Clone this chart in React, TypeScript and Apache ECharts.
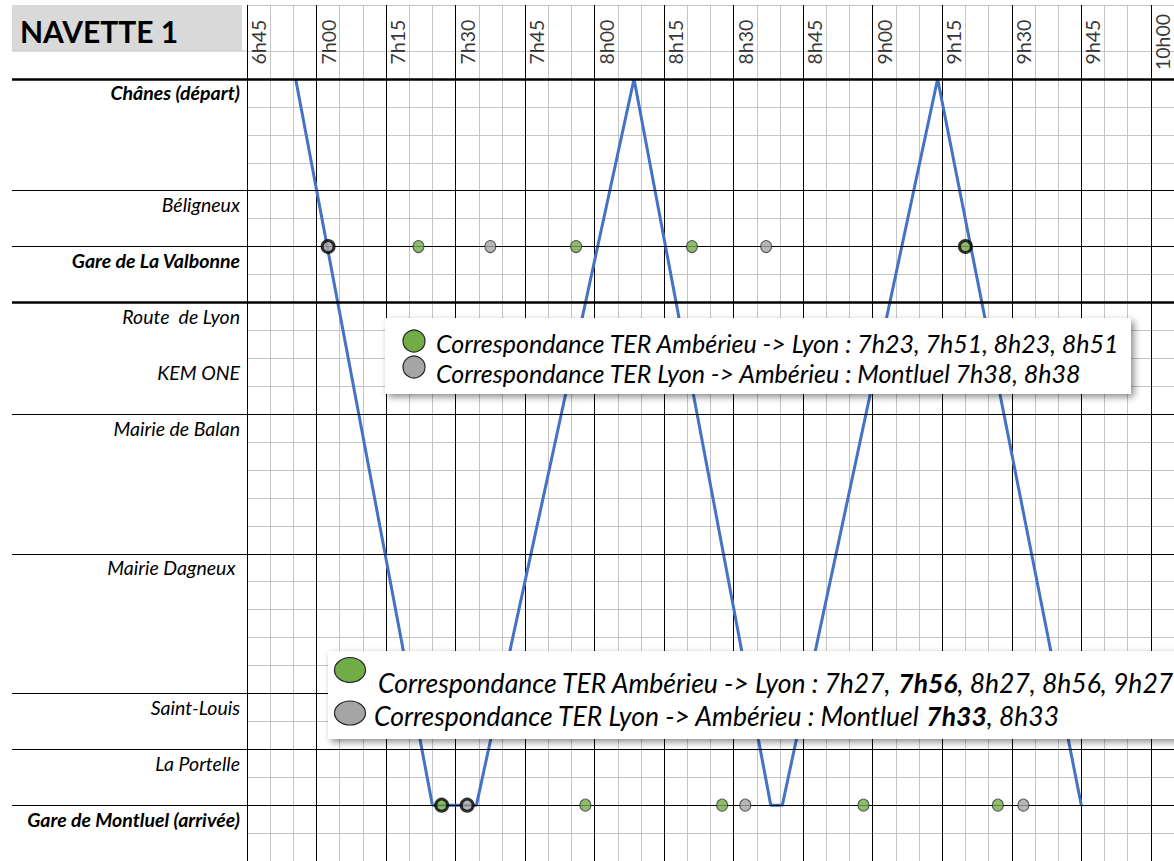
import React, { useEffect, useRef } from 'react';
import * as echarts from 'echarts';

// ---- data ----
const tickLabels = ['6h45', '7h00', '7h15', '7h30', '7h45', '8h00', '8h15', '8h30', '8h45', '9h00', '9h15', '9h30', '9h45', '10h00'];
const tickTimes = [405, 420, 435, 450, 465, 480, 495, 510, 525, 540, 555, 570, 585, 600];

const stationNames = ['Chânes (départ)', 'Béligneux', 'Gare de La Valbonne', 'Route  de Lyon', 'KEM ONE', 'Mairie de Balan', 'Mairie Dagneux ', 'Saint-Louis', 'La Portelle', 'Gare de Montluel (arrivée)'];
const stationRows = [0, 4, 6, 8, 10, 12, 17, 22, 24, 26];
const stationBold = [true, false, true, false, false, false, false, false, false, true];
const boundaryRows = [0, 4, 6, 8, 12, 17, 22, 24, 26];
const totalRows = 28;

// shuttle path (minutes since midnight, row)
const routeTimes = [415.5, 445, 454.5, 488.5, 518, 520.5, 554, 585];
const routeRows = [0, 26, 26, 0, 26, 26, 0, 26];

// connection markers (minutes since midnight)
const valbonneRow = 6;
const valbonneGreen = [442, 476, 501];
const valbonneGrey = [457.5, 517];
const valbonneBoldGreen = [560];
const valbonneBoldGrey = [422.5];
const montluelRow = 26;
const montluelGreen = [478, 507.5, 538, 567];
const montluelGrey = [512.5, 572.5];
const montluelBoldGreen = [447];
const montluelBoldGrey = [452.5];

const legend1 = ['Correspondance TER Ambérieu -> Lyon : 7h23, 7h51, 8h23, 8h51', 'Correspondance TER Lyon -> Ambérieu : Montluel 7h38, 8h38'];
const legend2 = ['Correspondance TER Ambérieu -> Lyon : 7h27, {b|7h56}, 8h27, 8h56, 9h27', 'Correspondance TER Lyon -> Ambérieu : Montluel {b|7h33}, 8h33'];

const GREEN = '#70ad47';
const GREY = '#a5a5a5';
const FONT = 'Lato';

export default function App() {
  const ref = useRef<HTMLDivElement>(null);
  useEffect(() => {
    if (!ref.current) return;
    const chart = echarts.init(ref.current, undefined, { renderer: 'svg' });

    const rowCats = Array.from({ length: totalRows }, (_, i) => String(i));
    const rowName = (i: number) => {
      const k = stationRows.indexOf(i);
      if (k < 0) return '';
      return stationBold[k] ? `{b|${stationNames[k]}}` : `{n|${stationNames[k]}}`;
    };

    const timeAxis = (gridIndex: number) => ({
      gridIndex,
      type: 'value',
      min: 405,
      max: 605,
      interval: 15,
      axisLine: { show: false },
      axisTick: { show: false },
      axisLabel: { show: false },
      splitLine: { show: true, lineStyle: { color: '#000', width: 1 } },
      minorTick: { show: false, splitNumber: 3 },
      minorSplitLine: { show: true, lineStyle: { color: '#c4c4c4', width: 1 } },
    });

    const dots = (times: number[], row: number, color: string, bold: boolean) => ({
      type: 'scatter',
      xAxisIndex: 0,
      yAxisIndex: 0,
      data: times.map((t) => [t, row]),
      symbol: 'circle',
      symbolSize: bold ? [12, 12] : [11, 12],
      itemStyle: { color, borderColor: bold ? '#000' : '#333', borderWidth: bold ? 3 : 1 },
      z: 5,
    });

    const stationLines = (xi: number, yi: number) => ({
      type: 'line',
      xAxisIndex: xi,
      yAxisIndex: yi,
      data: [],
      symbol: 'none',
      silent: true,
      z: 4,
      markLine: {
        silent: true,
        symbol: 'none',
        label: { show: false },
        animation: false,
        data: boundaryRows.map((r) => ({
          yAxis: r,
          lineStyle: { color: '#000', type: 'solid', width: r === 0 || r === 8 ? 2.5 : 1 },
        })),
      },
    });

    const Z = 100;
    const txt = (x: number, y: number, text: string, size: number) => ({
      type: 'text', x, y, z: Z,
      style: {
        text, fontFamily: FONT, fontStyle: 'italic', fontSize: size, fill: '#000', verticalAlign: 'middle',
        rich: { b: { fontFamily: FONT, fontStyle: 'italic', fontWeight: 'bold', fontSize: size, fill: '#000' } },
      },
    });
    const boxStyle = { fill: '#fff', shadowBlur: 7, shadowOffsetX: 3, shadowOffsetY: 3, shadowColor: 'rgba(0,0,0,0.45)' };

    chart.setOption({
      animation: false,
      backgroundColor: '#fff',
      grid: [
        { left: 247, top: 79, width: 927, height: 784 },
        { left: 247, top: 5, width: 927, height: 74 },
        { left: 12, top: 79, width: 235, height: 784 },
      ],
      xAxis: [
        timeAxis(0),
        timeAxis(1),
        { gridIndex: 2, type: 'value', min: 0, max: 1, show: false },
      ],
      yAxis: [
        {
          gridIndex: 0, type: 'value', min: 0, max: totalRows, interval: 1, inverse: true, position: 'right',
          axisLine: { show: false }, axisTick: { show: false }, axisLabel: { show: false },
          splitLine: { show: true, lineStyle: { color: '#c4c4c4', width: 1 } },
        },
        {
          gridIndex: 0, type: 'category', data: rowCats, inverse: true, position: 'left',
          axisLine: { show: false }, axisTick: { show: false }, splitLine: { show: false },
          axisLabel: {
            interval: 0,
            margin: 7,
            formatter: (_v: string, i: number) => rowName(i),
            rich: {
              b: { fontFamily: FONT, fontSize: 19.5, fontStyle: 'italic', fontWeight: 'bold', color: '#000' },
              n: { fontFamily: FONT, fontSize: 19.5, fontStyle: 'italic', fontWeight: 'normal', color: '#000' },
            },
          },
        },
        {
          gridIndex: 1, type: 'value', min: 0, max: 74, interval: 46, inverse: true,
          axisLine: { show: false }, axisTick: { show: false }, axisLabel: { show: false },
          splitLine: { show: true, lineStyle: { color: '#c4c4c4', width: 1 } },
        },
        { gridIndex: 2, type: 'value', min: 0, max: totalRows, inverse: true, show: false },
      ],
      series: [
        stationLines(0, 0),
        stationLines(2, 3),
        {
          type: 'line',
          xAxisIndex: 0,
          yAxisIndex: 0,
          data: routeTimes.map((t, i) => [t, routeRows[i]]),
          symbol: 'none',
          lineStyle: { color: '#4472c4', width: 3 },
          z: 4,
        },
        dots(valbonneGreen, valbonneRow, GREEN, false),
        dots(valbonneGrey, valbonneRow, GREY, false),
        dots(valbonneBoldGreen, valbonneRow, GREEN, true),
        dots(valbonneBoldGrey, valbonneRow, GREY, true),
        dots(montluelGreen, montluelRow, GREEN, false),
        dots(montluelGrey, montluelRow, GREY, false),
        dots(montluelBoldGreen, montluelRow, GREEN, true),
        dots(montluelBoldGrey, montluelRow, GREY, true),
        {
          type: 'scatter',
          xAxisIndex: 1,
          yAxisIndex: 2,
          symbolSize: 0,
          data: tickTimes.map((t, i) => [t + 2.5, 37, tickLabels[i]]),
          label: {
            show: true,
            position: 'inside',
            formatter: (p: any) => p.data[2],
            rotate: 90,
            fontFamily: FONT,
            fontSize: 19.5,
            color: '#000',
          },
          silent: true,
        },
      ],
      graphic: [
        { type: 'rect', z: Z, shape: { x: 12, y: 5, width: 230, height: 46 }, style: { fill: '#d9d9d9' } },
        { type: 'line', z: Z, shape: { x1: 12, y1: 51, x2: 247, y2: 51 }, style: { stroke: '#c4c4c4', lineWidth: 1 } },
        {
          type: 'text', x: 20, y: 31, z: Z,
          style: { text: 'NAVETTE 1', fontFamily: FONT, fontWeight: 'bold', fontSize: 30, fill: '#000', verticalAlign: 'middle' },
        },
        { type: 'rect', z: Z, shape: { x: 385, y: 318, width: 746, height: 76 }, style: boxStyle },
        { type: 'circle', z: Z, shape: { cx: 414, cy: 341, r: 11 }, style: { fill: GREEN, stroke: '#222', lineWidth: 1.2 } },
        { type: 'circle', z: Z, shape: { cx: 414, cy: 367, r: 11 }, style: { fill: GREY, stroke: '#222', lineWidth: 1.2 } },
        txt(436, 343, legend1[0], 25),
        txt(436, 373, legend1[1], 25),
        { type: 'rect', z: Z, shape: { x: 328, y: 651, width: 900, height: 88 }, style: boxStyle },
        { type: 'ellipse', z: Z, shape: { cx: 350, cy: 670, rx: 15.5, ry: 12.5 }, style: { fill: GREEN, stroke: '#222', lineWidth: 1.2 } },
        { type: 'ellipse', z: Z, shape: { cx: 350, cy: 713, rx: 15.5, ry: 12 }, style: { fill: GREY, stroke: '#222', lineWidth: 1.2 } },
        txt(378, 683, legend2[0], 26.5),
        txt(374, 716, legend2[1], 26.5),
      ],
    });

    return () => chart.dispose();
  }, []);

  return <div ref={ref} style={{ position: 'absolute', left: 0, top: 0, width: 1174, height: 861, background: '#fff' }} />;
}
